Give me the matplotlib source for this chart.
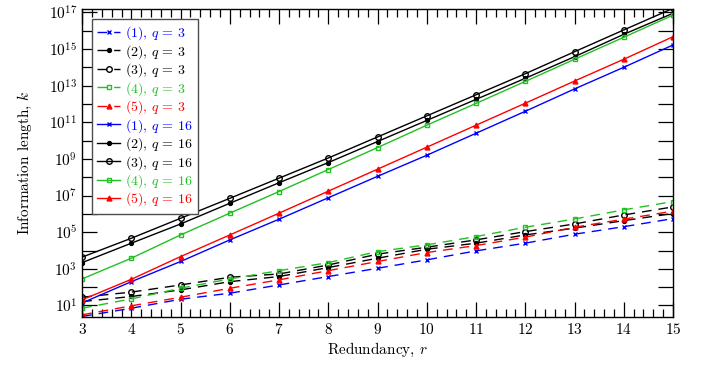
import numpy as np
import matplotlib
matplotlib.use("Agg")
import matplotlib.pyplot as plt
from matplotlib.ticker import FixedLocator, MultipleLocator, FuncFormatter

plt.rcParams['font.family'] = 'serif'
plt.rcParams['font.serif'] = ['cmr10']
plt.rcParams['mathtext.fontset'] = 'cm'
plt.rcParams['axes.unicode_minus'] = False
plt.rcParams['axes.formatter.use_mathtext'] = True

# redundancy values
r = [3, 4, 5, 6, 7, 8, 9, 10, 11, 12, 13, 14, 15]

# log10 of information length
# q = 3 (dashed)
q3_c1 = [0.40, 0.85, 1.34, 1.67, 2.12, 2.58, 3.03, 3.49, 3.98, 4.40, 4.89, 5.30, 5.74]
q3_c2 = [1.21, 1.49, 1.85, 2.30, 2.58, 3.07, 3.58, 4.07, 4.40, 4.85, 5.22, 5.63, 6.02]
q3_c3 = [1.45, 1.73, 2.12, 2.54, 2.72, 3.21, 3.80, 4.18, 4.58, 5.03, 5.45, 5.94, 6.38]
q3_c4 = [0.85, 1.36, 1.94, 2.45, 2.90, 3.34, 3.94, 4.31, 4.76, 5.27, 5.72, 6.22, 6.67]
q3_c5 = [0.49, 0.98, 1.45, 1.94, 2.40, 2.90, 3.40, 3.89, 4.27, 4.73, 5.27, 5.71, 6.15]
# q = 16 (solid)
q16_c1 = [1.14, 2.30, 3.40, 4.58, 5.71, 6.88, 8.05, 9.20, 10.40, 11.60, 12.82, 14.00, 15.22]
q16_c2 = [3.34, 4.40, 5.45, 6.58, 7.70, 8.80, 9.95, 11.10, 12.25, 13.40, 14.58, 15.80, 16.95]
q16_c3 = [3.64, 4.67, 5.76, 6.85, 7.95, 9.05, 10.20, 11.35, 12.50, 13.65, 14.85, 16.04, 17.22]
q16_c4 = [2.45, 3.58, 4.85, 6.04, 7.22, 8.42, 9.62, 10.84, 12.03, 13.23, 14.44, 15.64, 16.85]
q16_c5 = [1.31, 2.43, 3.67, 4.85, 6.04, 7.24, 8.44, 9.64, 10.84, 12.04, 13.25, 14.44, 15.67]

names = ['(1)', '(2)', '(3)', '(4)', '(5)']
colors = ['#0000ff', '#000000', '#000000', '#22c022', '#ff0000']
markers = ['x', 'o', 'o', 's', '^']
filled = [True, True, False, False, True]
msizes = [3.2, 2.8, 4, 3.2, 3.5]

fig = plt.figure(figsize=(7.02, 3.65), dpi=100)
ax = fig.add_axes([0.117, 0.132, 0.8417, 0.843])

series = [(3, '--', [q3_c1, q3_c2, q3_c3, q3_c4, q3_c5]),
          (16, '-', [q16_c1, q16_c2, q16_c3, q16_c4, q16_c5])]
text_colors = []
for q, ls, data in series:
    for i, vals in enumerate(data):
        k = 10 ** np.array(vals)
        fc = colors[i] if filled[i] else 'none'
        line, = ax.plot(r, k, ls, color=colors[i], lw=1.0, marker=markers[i],
                        ms=msizes[i], mfc=fc, mec=colors[i], mew=1.0,
                        label=names[i] + r', $q\,=\,%d$' % q)
        if ls == '--':
            line.set_dashes((7, 5))
        text_colors.append(colors[i])

ax.set_yscale('log')
ax.set_xlim(3, 15)
ax.set_ylim(2.4, 1.5e17)
ax.xaxis.set_major_locator(MultipleLocator(1))
ax.xaxis.set_minor_locator(MultipleLocator(0.2))
ax.yaxis.set_major_locator(FixedLocator([10.0 ** e for e in range(0, 18)]))
ax.yaxis.set_minor_locator(FixedLocator([]))


def ylab(v, pos):
    e = int(round(np.log10(v)))
    if e % 2 == 1:
        return r'$10^{%d}$' % e
    return ''


ax.yaxis.set_major_formatter(FuncFormatter(ylab))
ax.tick_params(which='both', direction='in', top=True, right=True, labelsize=11)
ax.tick_params(which='major', length=11, width=0.9)
ax.tick_params(which='minor', length=6, width=0.9)
for s in ax.spines.values():
    s.set_linewidth(1.0)

ax.set_xlabel(r'Redundancy, $r$', fontsize=11, labelpad=3)
ax.set_ylabel(r'Information length, $k$', fontsize=11, labelpad=11)

leg = ax.legend(loc='upper left', fontsize=10, fancybox=False, framealpha=1,
                edgecolor='0.3', handlelength=1.6, handletextpad=0.4,
                labelspacing=0.05, borderpad=0.4, borderaxespad=0.7)
leg.get_frame().set_linewidth(1.0)
for t, c in zip(leg.get_texts(), text_colors):
    t.set_color(c)

fig.savefig('out.png', dpi=100)
